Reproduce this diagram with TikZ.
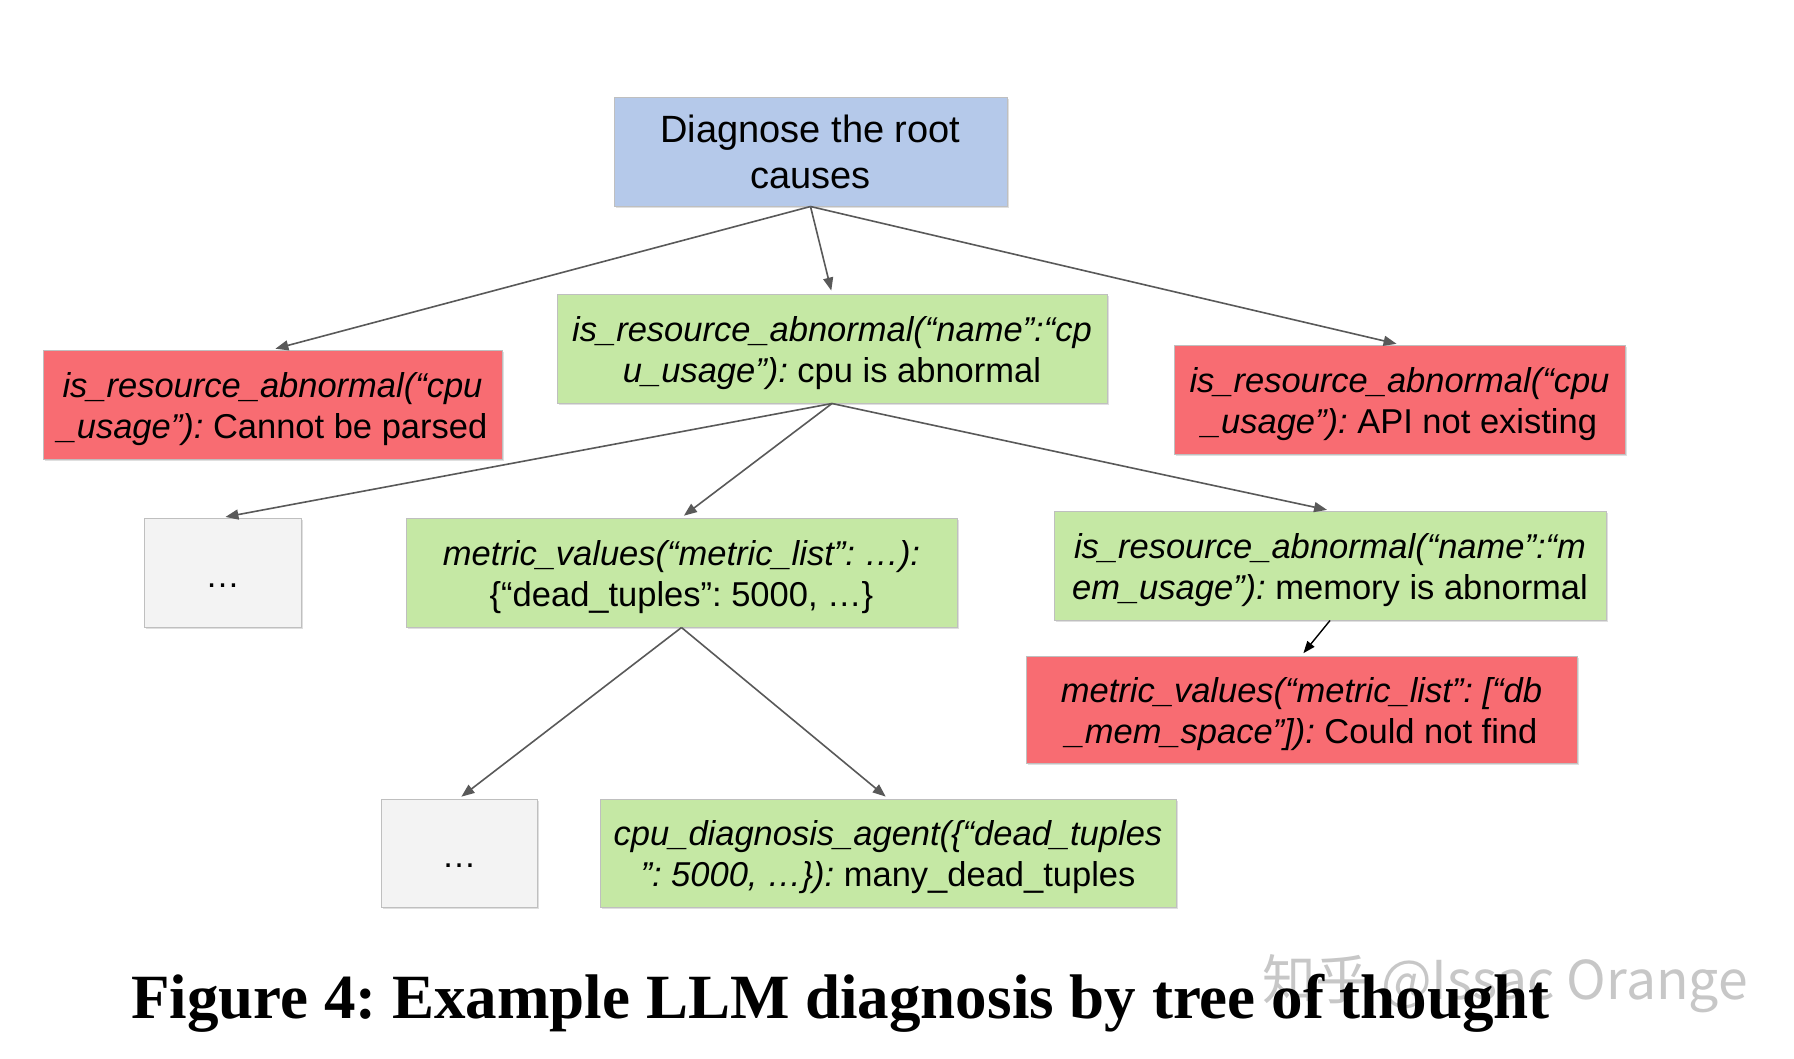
\documentclass[tikz,border=0pt]{standalone}
\usepackage{fontspec}
\setmainfont{Liberation Sans}
\newfontfamily\capfont{Liberation Serif}
\newfontfamily\cjkfont{Noto Sans CJK SC}
\usetikzlibrary{arrows.meta,shadows}
\definecolor{rootblue}{HTML}{B5C9EA}
\definecolor{okgreen}{HTML}{C5E8A4}
\definecolor{badred}{HTML}{F86C72}
\definecolor{dotgray}{HTML}{F3F3F3}
\newcommand{\twolines}[2]{\raisebox{-5pt}[\height][\depth]{\begin{tabular}{@{}c@{}}#1\\#2\end{tabular}}}
\newcommand{\lowdots}{\raisebox{-13pt}[\height][\depth]{…}}
\begin{document}
\frenchspacing
\begin{tikzpicture}[x=1pt,y=-1pt,
  box/.style={draw=black!25, line width=1pt, inner sep=0pt, align=center,
    font=\fontsize{34.5}{41}\selectfont,
    drop shadow={shadow xshift=1.5pt, shadow yshift=-1.5pt, opacity=0.25}},
  rootbox/.style={box, fill=rootblue, font=\fontsize{38}{46}\selectfont},
  greenbox/.style={box, fill=okgreen},
  redbox/.style={box, fill=badred},
  dotbox/.style={box, fill=dotgray},
  arr/.style={draw=black!65, line width=1.6pt, shorten >=3pt,
    -{Triangle[length=13pt,width=10pt]}},
  darr/.style={draw=black, line width=1.4pt, shorten >=3pt,
    -{Triangle[length=12pt,width=9pt]}}
]
\useasboundingbox[fill=white] (0,0) rectangle (1794,1058);

\node[rootbox, minimum width=393pt, minimum height=109pt] (root) at (810.5,151.5)
  {Diagnose the root\\causes};

\node[greenbox, minimum width=550pt, minimum height=109pt] (cpu) at (832,348.5)
  {\twolines{\textit{is\_resource\_abnormal(“name”:“cp}}{\textit{u\_usage”):} cpu is abnormal}};

\node[redbox, minimum width=459pt, minimum height=109pt] (parse) at (272.5,404.5)
  {\twolines{\textit{is\_resource\_abnormal(“cpu}}{\textit{\_usage”):} Cannot be parsed}};

\node[redbox, minimum width=451pt, minimum height=109pt] (api) at (1399.5,399.5)
  {\twolines{\textit{is\_resource\_abnormal(“cpu}}{\textit{\_usage”):} API not existing}};

\node[dotbox, minimum width=157pt, minimum height=109pt] (dotsa) at (222.5,572.5)
  {\lowdots};

\node[greenbox, minimum width=551pt, minimum height=109pt] (metric) at (681.5,572.5)
  {\twolines{\textit{metric\_values(“metric\_list”: …):}}{\{“dead\_tuples”: 5000, …\}}};

\node[greenbox, minimum width=552pt, minimum height=109pt] (mem) at (1330,565.5)
  {\twolines{\textit{is\_resource\_abnormal(“name”:“m}}{\textit{em\_usage”):} memory is abnormal}};

\node[redbox, minimum width=551pt, minimum height=107pt] (memred) at (1301.5,709.5)
  {\twolines{\textit{metric\_values(“metric\_list”: [“db}}{\textit{\_mem\_space”]):} Could not find}};

\node[dotbox, minimum width=156pt, minimum height=108pt] (dotsb) at (459,853)
  {\lowdots};

\node[greenbox, minimum width=576pt, minimum height=108pt] (agent) at (888,853)
  {\twolines{\textit{cpu\_diagnosis\_agent(\{“dead\_tuples}}{\textit{”: 5000, …\}):} many\_dead\_tuples}};

\draw[arr] (root.south) -- (parse.north);
\draw[arr] (root.south) -- (cpu.north);
\draw[arr] (root.south) -- (api.north);
\draw[arr] (cpu.south) -- (dotsa.north);
\draw[arr] (cpu.south) -- (metric.north);
\draw[arr] (cpu.south) -- (mem.north);
\draw[darr] (mem.south) -- (memred.north);
\draw[arr] (metric.south) -- (dotsb.north);
\draw[arr] (metric.south) -- (agent.north);

\node[anchor=base west, text=black!22, inner sep=0pt,
  font=\cjkfont\fontsize{53.5}{60}\selectfont] (wm) at (1262,999) {知乎 @Issac Orange};

\node[anchor=base, inner sep=0pt, font=\capfont\bfseries\fontsize{63}{70}\selectfont]
  (cap) at (840.5,1018) {Figure 4: Example LLM diagnosis by tree of thought};
\end{tikzpicture}
\end{document}
